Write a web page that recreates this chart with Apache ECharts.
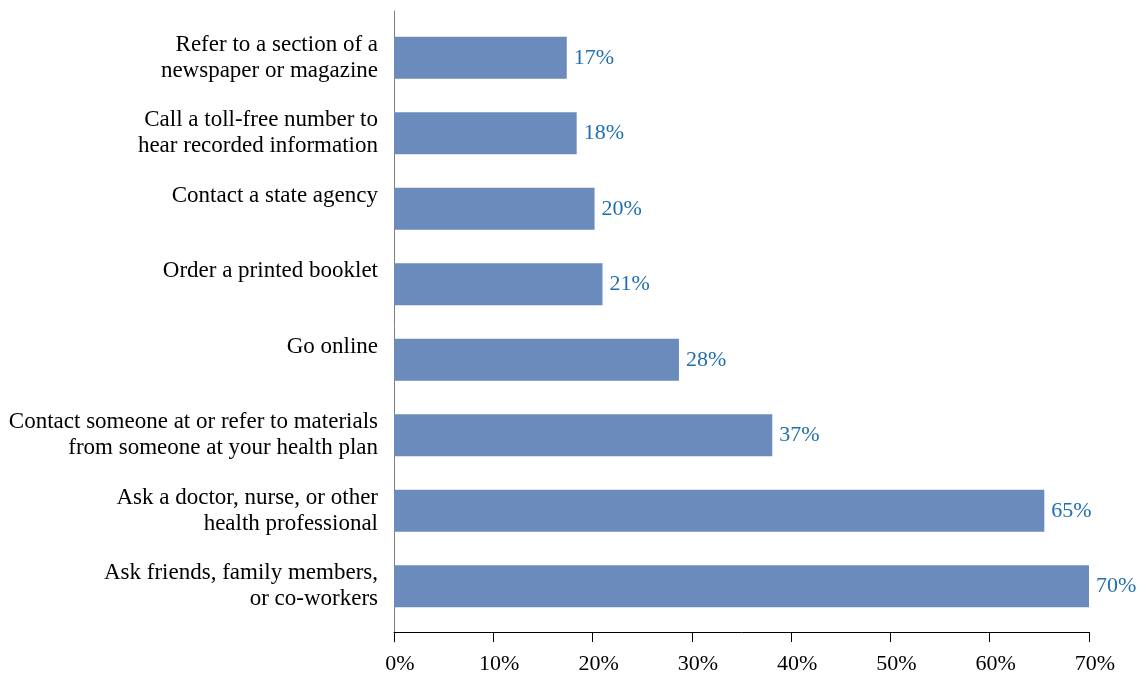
<!DOCTYPE html>
<html>
<head>
<meta charset="utf-8">
<script src="https://cdn.jsdelivr.net/npm/echarts@6/dist/echarts.min.js"></script>
<style>
html,body{margin:0;padding:0;background:#fff;}
#chart{width:1148px;height:673px;}
</style>
</head>
<body>
<div id="chart"></div>
<script>
// Categories, top to bottom
const categories = [
  "Refer to a section of a\nnewspaper or magazine",
  "Call a toll-free number to\nhear recorded information",
  "Contact a state agency",
  "Order a printed booklet",
  "Go online",
  "Contact someone at or refer to materials\nfrom someone at your health plan",
  "Ask a doctor, nurse, or other\nhealth professional",
  "Ask friends, family members,\nor co-workers"
];
// Bar lengths (percent)
const values = [17.4, 18.4, 20.2, 21.0, 28.7, 38.1, 65.5, 70.0];
// Printed value labels
const valueLabels = ["17%", "18%", "20%", "21%", "28%", "37%", "65%", "70%"];
// X-axis ticks
const xMin = 0, xMax = 70, xInterval = 10;

const FONT = "'Liberation Serif', 'DejaVu Serif', serif";

// ECharts category axis draws bottom-up; reverse so first category is on top
const catRev = categories.slice().reverse();
const valRev = values.slice().reverse();
const lblRev = valueLabels.slice().reverse();

const chart = echarts.init(document.getElementById('chart'));
chart.setOption({
  animation: false,
  backgroundColor: '#ffffff',
  grid: [
    { left: 394, right: 59, top: 20, bottom: 49, containLabel: false, outerBoundsMode: 'none' },
    { left: 394, width: 1, top: 11, bottom: 31, containLabel: false, outerBoundsMode: 'none' }
  ],
  xAxis: [
    {
      gridIndex: 0,
      type: 'value',
      min: xMin, max: xMax, interval: xInterval,
      offset: 8,
      axisLine: { show: true, lineStyle: { color: '#000', width: 1 } },
      axisTick: { show: true, length: 10, lineStyle: { color: '#000' } },
      axisLabel: {
        margin: 21,
        padding: [0, 0, 0, 12],
        formatter: v => v + '%',
        fontFamily: FONT, fontSize: 22, color: '#000'
      },
      splitLine: { show: false }
    },
    { gridIndex: 1, type: 'value', show: false }
  ],
  yAxis: [
    {
      gridIndex: 0,
      type: 'category',
      data: catRev,
      axisLine: { show: false },
      axisTick: { show: false },
      axisLabel: {
        margin: 16,
        fontFamily: FONT, fontSize: 23, color: '#000',
        lineHeight: 26,
        align: 'right',
        formatter: v => v.indexOf('\n') >= 0 ? v : v + '\n '
      }
    },
    {
      gridIndex: 1,
      type: 'value',
      axisLine: { show: true, lineStyle: { color: '#7f7f7f', width: 1 } },
      axisTick: { show: false },
      axisLabel: { show: false },
      splitLine: { show: false }
    }
  ],
  series: [
    {
      type: 'bar',
      xAxisIndex: 0, yAxisIndex: 0,
      data: valRev,
      barWidth: 42,
      itemStyle: { color: '#6c8bbd' },
      label: {
        show: true,
        position: 'right',
        distance: 7,
        formatter: p => lblRev[p.dataIndex],
        fontFamily: FONT, fontSize: 22, color: '#1f6fb0'
      }
    }
  ]
});
</script>
</body>
</html>
